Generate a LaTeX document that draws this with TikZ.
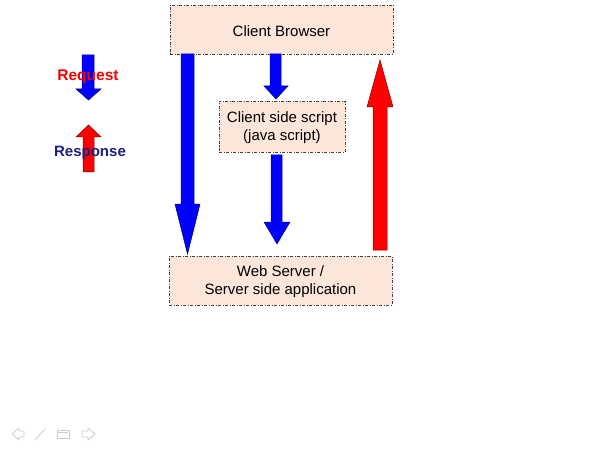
\documentclass[tikz,border=0pt]{standalone}
\usepackage{fontspec}
\setmainfont{Liberation Sans}
\begin{document}
\begin{tikzpicture}[x=1pt,y=-1pt,
  box/.style={draw=black!75,dash pattern=on 3pt off 1.5pt on 1pt off 1.5pt,fill=peach,line width=0.6pt,minimum width=0pt,minimum height=0pt,inner sep=0pt},
  boxtext/.style={font=\fontsize{15}{18}\selectfont,align=center,inner sep=0pt},
  blk/.style={fill=blue,draw=blue!50!black,line width=0.5pt},
  rdk/.style={fill=red,draw=red!50!black,line width=0.5pt},
  nav/.style={draw=black!20,line width=0.8pt,line join=round}]
\definecolor{peach}{RGB}{252,230,218}
\definecolor{navyt}{RGB}{30,30,130}
\useasboundingbox (0,0) rectangle (599,449);
\fill[white] (0,0) rectangle (599,449);
% boxes
\node[box,minimum width=223pt,minimum height=49pt] (cb) at (281.5,29.5) {};
\node[boxtext] (cbt) at (281.5,31) {Client Browser};
\node[box,minimum width=126pt,minimum height=51pt] (cs) at (282,126.5) {};
\node[boxtext] (cst) at (282,128) {Client side script\\(java script)};
\node[box,minimum width=223pt,minimum height=49pt] (ws) at (280.5,280.5) {};
\node[boxtext] (wst) at (280.5,282) {Web Server /\\Server side application};
% big left request arrow
\draw[blk] (181,54) -- (194,54) -- (194,204) -- (200,204) -- (187.5,254) -- (175,204) -- (181,204) -- cycle;
% middle upper arrow
\draw[blk] (270,54) -- (281,54) -- (281,86) -- (288,86) -- (276,99) -- (264,86) -- (270,86) -- cycle;
% middle lower arrow
\draw[blk] (271,155) -- (282,155) -- (282,222) -- (290,222) -- (277,244) -- (264,222) -- (271,222) -- cycle;
% red response arrow
\draw[rdk] (373,250) -- (387,250) -- (387,107) -- (393,107) -- (380,60) -- (367,107) -- (373,107) -- cycle;
% legend arrows
\draw[blk] (82,55) -- (94,55) -- (94,89) -- (101,89) -- (88.5,100) -- (76,89) -- (82,89) -- cycle;
\draw[rdk] (83,172) -- (94,172) -- (94,137) -- (101,137) -- (88.5,125) -- (76,137) -- (83,137) -- cycle;
\node[font=\bfseries\fontsize{15.5}{18}\selectfont,text=red] (req) at (88,76.5) {Request};
\node[font=\bfseries\fontsize{15}{18}\selectfont,text=navyt] (resp) at (90,152.5) {Response};
% faint navigation icons
\draw[nav] (19,428) -- (12,434) -- (19,440) -- (19,437) -- (24,437) -- (24,431) -- (19,431) -- cycle;
\draw[nav] (35,440) -- (45,429);
\draw[nav] (57,430) rectangle (69,438);
\draw[nav] (58,432) -- (68,432);
\draw[nav] (88,428) -- (95,434) -- (88,440) -- (88,437) -- (82,437) -- (82,431) -- (88,431) -- cycle;
\end{tikzpicture}
\end{document}
